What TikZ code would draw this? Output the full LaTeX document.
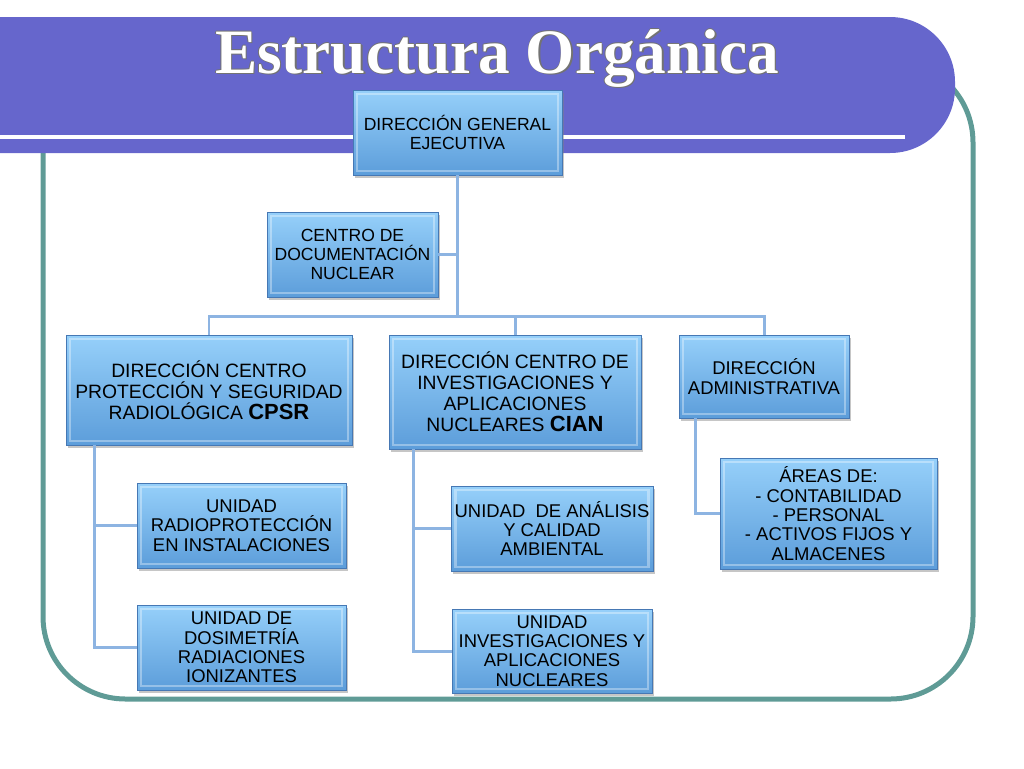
\documentclass[tikz,border=0pt]{standalone}
\usepackage{fontspec}
\setmainfont{Liberation Sans}
\newfontfamily\titlefont{Liberation Serif}
\usetikzlibrary{positioning,shadows,calc}

\definecolor{banner}{RGB}{102,102,204}
\definecolor{frameteal}{RGB}{95,155,150}
\definecolor{linkblue}{RGB}{141,180,226}
\definecolor{boxtop}{RGB}{150,208,250}
\definecolor{boxbot}{RGB}{92,157,218}
\definecolor{boxedge}{RGB}{70,120,180}

\begin{document}
\begin{tikzpicture}[x=0.02cm, y=-0.02cm, semithick,
    unit/.style={rectangle, draw=boxedge, line width=0.4pt, top color=boxtop, bottom color=boxbot,
                 drop shadow={shadow xshift=1.2pt, shadow yshift=-1.5pt, opacity=0.45},
                 align=center, inner sep=2pt, font=\fontsize{10.5}{11}\selectfont,
                 path picture={\draw[white, opacity=0.35, line width=1.2pt]
                     ([shift={(2.5pt,-2.5pt)}]path picture bounding box.north west) rectangle
                     ([shift={(-2.5pt,2.5pt)}]path picture bounding box.south east);}},
    head/.style={unit, font=\fontsize{11}{12}\selectfont},
    titletext/.style={anchor=base, inner sep=0pt, font=\titlefont\bfseries\fontsize{36}{36}\selectfont},
    link/.style={draw=linkblue, line width=1.7pt},
    bar/.style={to path={-| (\tikztotarget)}},
    elbow/.style={to path={|- (\tikztotarget)}}]

    \useasboundingbox (0,0) rectangle (1024,768);

    \draw[frameteal, line width=0.1cm, rounded corners=1.65cm] (43,60) rectangle (973,699);
    \fill[banner, rounded corners=1.3cm] (-100,17) rectangle (955,153);
    \draw[white, line width=0.08cm] (-10,137) -- (905,137);

    \foreach \dx/\dy [count=\i] in {0.8/0,-0.8/0,0/0.8,0/-0.8,1.4/1.4}
        \node[titletext, text=black!55] (shade\i) at (497+\dx,73+\dy) {Estructura Orgánica};
    \node[titletext, text=white] (title) at (497,73) {Estructura Orgánica};

    \node[unit, font=\fontsize{10}{11}\selectfont, minimum width=4.18cm, minimum height=1.70cm] (dge)   at (457.5,132.5) {DIRECCIÓN GENERAL\\EJECUTIVA};
    \node[unit, font=\fontsize{10}{11}\selectfont, minimum width=3.42cm, minimum height=1.70cm] (cdn)   at (352.5,254.5) {CENTRO DE\\DOCUMENTACIÓN\\NUCLEAR};
    \node[head, minimum width=5.72cm, minimum height=2.20cm] (cpsr)  at (209,390)     {DIRECCIÓN CENTRO\\PROTECCIÓN Y SEGURIDAD\\RADIOLÓGICA {\bfseries\fontsize{12.5}{12}\selectfont CPSR}};
    \node[head, minimum width=5.04cm, minimum height=2.28cm] (cian)  at (515,392)     {DIRECCIÓN CENTRO DE\\INVESTIGACIONES Y\\APLICACIONES\\NUCLEARES {\bfseries\fontsize{12.5}{12}\selectfont CIAN}};
    \node[unit, minimum width=3.40cm, minimum height=1.66cm] (da)    at (764,376.5)   {DIRECCIÓN\\ADMINISTRATIVA};
    \node[unit, minimum width=4.18cm, minimum height=1.70cm] (uri)   at (241.5,525.5) {UNIDAD\\RADIOPROTECCIÓN\\EN INSTALACIONES};
    \node[unit, minimum width=4.18cm, minimum height=1.70cm] (udri)  at (241.5,647.5) {UNIDAD DE\\DOSIMETRÍA\\RADIACIONES\\IONIZANTES};
    \node[unit, minimum width=4.00cm, minimum height=1.70cm] (uaca)  at (552,528.5)   {UNIDAD\ \ DE ANÁLISIS\\Y CALIDAD\\AMBIENTAL};
    \node[unit, minimum width=4.00cm, minimum height=1.68cm] (uian)  at (552,651)     {UNIDAD\\INVESTIGACIONES Y\\APLICACIONES\\NUCLEARES};
    \node[unit, minimum width=4.34cm, minimum height=2.22cm] (areas) at (828.5,513.5) {ÁREAS DE:\\- CONTABILIDAD\\- PERSONAL\\- ACTIVOS FIJOS Y\\ALMACENES};

    \coordinate (bus)       at (457.5,316);
    \coordinate (cpsrtrunk) at ([xshift=0.58cm]cpsr.south west);
    \coordinate (ciantrunk) at ([xshift=0.50cm]cian.south west);
    \coordinate (datrunk)   at ([xshift=0.34cm]da.south west);

    \path[link] (dge)       edge                (bus)
                (cdn.east)  edge                (cdn.east -| bus)
                (bus)       edge       [bar]    (cpsr.north)
                            edge       [bar]    (cian.north)
                            edge       [bar]    (da.north)
                (cpsrtrunk) edge       [elbow]  (uri.west)
                            edge       [elbow]  (udri.west)
                (ciantrunk) edge       [elbow]  (uaca.west)
                            edge       [elbow]  (uian.west)
                (datrunk)   edge       [elbow]  (areas.west);

\end{tikzpicture}
\end{document}
